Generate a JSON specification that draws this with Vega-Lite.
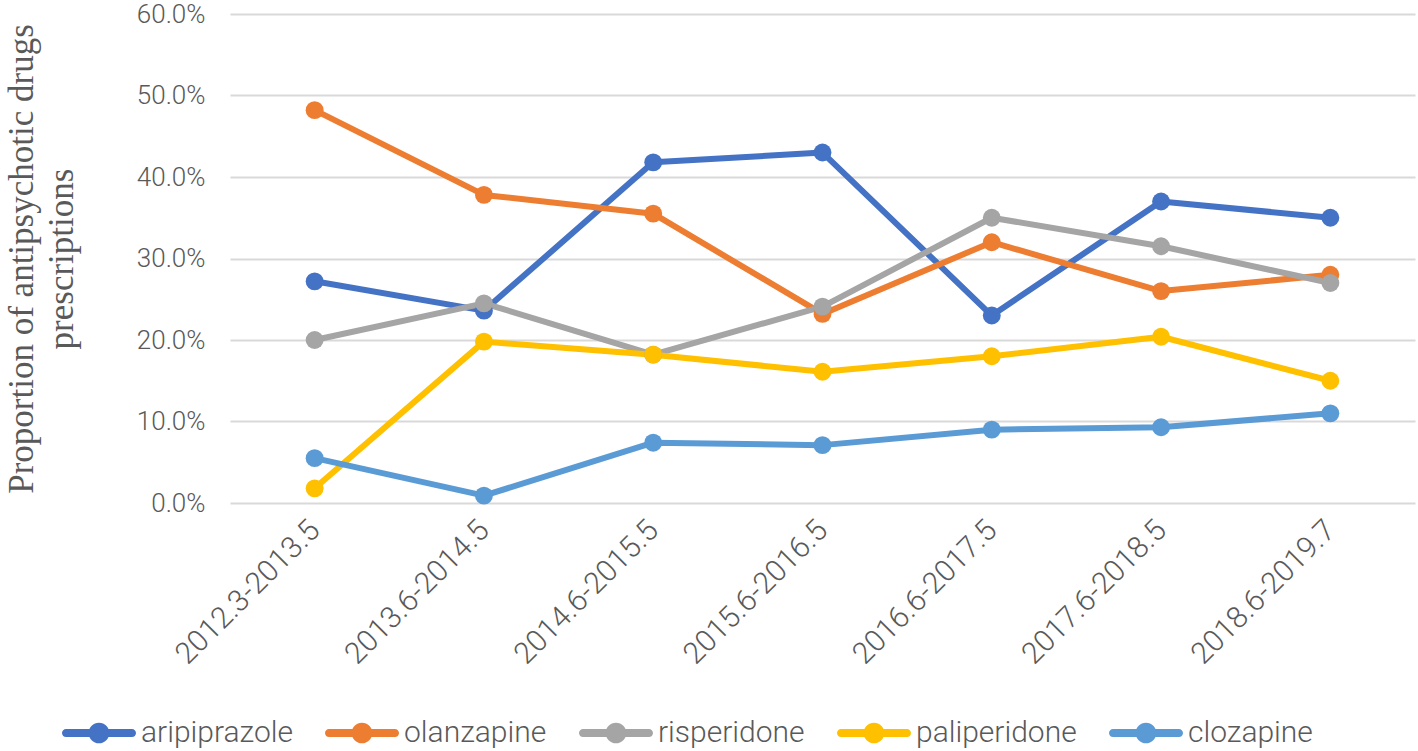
{
  "$schema": "https://vega.github.io/schema/vega-lite/v6.json",
  "width": 1185,
  "height": 489,
  "autosize": "none",
  "padding": {"left": 230, "top": 14, "right": 3, "bottom": 248},
  "background": "white",
  "config": {
    "view": {"stroke": null},
    "axis": {"labelFont": "Roboto", "labelFontWeight": 300, "labelColor": "#595959", "labelFontSize": 26, "labelLimit": 400}
  },
  "data": {
    "values": [
      {"period": "2012.3-2013.5", "drug": "aripiprazole", "p": 0.272},
      {"period": "2013.6-2014.5", "drug": "aripiprazole", "p": 0.236},
      {"period": "2014.6-2015.5", "drug": "aripiprazole", "p": 0.418},
      {"period": "2015.6-2016.5", "drug": "aripiprazole", "p": 0.430},
      {"period": "2016.6-2017.5", "drug": "aripiprazole", "p": 0.230},
      {"period": "2017.6-2018.5", "drug": "aripiprazole", "p": 0.370},
      {"period": "2018.6-2019.7", "drug": "aripiprazole", "p": 0.350},
      {"period": "2012.3-2013.5", "drug": "olanzapine", "p": 0.482},
      {"period": "2013.6-2014.5", "drug": "olanzapine", "p": 0.378},
      {"period": "2014.6-2015.5", "drug": "olanzapine", "p": 0.355},
      {"period": "2015.6-2016.5", "drug": "olanzapine", "p": 0.232},
      {"period": "2016.6-2017.5", "drug": "olanzapine", "p": 0.320},
      {"period": "2017.6-2018.5", "drug": "olanzapine", "p": 0.260},
      {"period": "2018.6-2019.7", "drug": "olanzapine", "p": 0.280},
      {"period": "2012.3-2013.5", "drug": "risperidone", "p": 0.200},
      {"period": "2013.6-2014.5", "drug": "risperidone", "p": 0.245},
      {"period": "2014.6-2015.5", "drug": "risperidone", "p": 0.182},
      {"period": "2015.6-2016.5", "drug": "risperidone", "p": 0.241},
      {"period": "2016.6-2017.5", "drug": "risperidone", "p": 0.350},
      {"period": "2017.6-2018.5", "drug": "risperidone", "p": 0.315},
      {"period": "2018.6-2019.7", "drug": "risperidone", "p": 0.270},
      {"period": "2012.3-2013.5", "drug": "paliperidone", "p": 0.018},
      {"period": "2013.6-2014.5", "drug": "paliperidone", "p": 0.198},
      {"period": "2014.6-2015.5", "drug": "paliperidone", "p": 0.182},
      {"period": "2015.6-2016.5", "drug": "paliperidone", "p": 0.161},
      {"period": "2016.6-2017.5", "drug": "paliperidone", "p": 0.180},
      {"period": "2017.6-2018.5", "drug": "paliperidone", "p": 0.204},
      {"period": "2018.6-2019.7", "drug": "paliperidone", "p": 0.150},
      {"period": "2012.3-2013.5", "drug": "clozapine", "p": 0.055},
      {"period": "2013.6-2014.5", "drug": "clozapine", "p": 0.009},
      {"period": "2014.6-2015.5", "drug": "clozapine", "p": 0.074},
      {"period": "2015.6-2016.5", "drug": "clozapine", "p": 0.071},
      {"period": "2016.6-2017.5", "drug": "clozapine", "p": 0.090},
      {"period": "2017.6-2018.5", "drug": "clozapine", "p": 0.093},
      {"period": "2018.6-2019.7", "drug": "clozapine", "p": 0.110}
    ]
  },
  "encoding": {
    "x": {
      "field": "period", "type": "nominal", "sort": null,
      "scale": {"type": "point", "padding": 0.5},
      "axis": {"title": null, "labelAngle": -45, "labelAlign": "right", "labelBaseline": "middle", "labelPadding": 22, "labelFontSize": 30, "ticks": false, "domain": false, "grid": false}
    },
    "y": {
      "field": "p", "type": "quantitative",
      "scale": {"domain": [0, 0.6], "nice": false, "zero": true},
      "axis": {
        "values": [0, 0.1, 0.2, 0.3, 0.4, 0.5, 0.6], "format": ".1%",
        "ticks": false, "domain": false, "labelPadding": 25,
        "grid": true, "gridColor": "#D9D9D9", "gridWidth": 2,
        "title": ["Proportion of antipsychotic drugs", "prescriptions"],
        "titleFont": "Liberation Serif", "titleFontSize": 35, "titleFontWeight": "normal", "titleColor": "#595959",
        "titleLineHeight": 40, "titlePadding": 57
      }
    },
    "color": {
      "field": "drug", "type": "nominal",
      "scale": {"domain": ["aripiprazole", "olanzapine", "risperidone", "paliperidone", "clozapine"], "range": ["#4472C4", "#ED7D31", "#A5A5A5", "#FFC000", "#5B9BD5"]},
      "legend": {
        "orient": "none", "legendX": -168, "legendY": 682, "direction": "horizontal", "title": null, "padding": 0,
        "symbolType": "M-0.89,-0.11 H0.89 A0.11,0.11 0 0,1 0.89,0.11 H-0.89 A0.11,0.11 0 0,1 -0.89,-0.11 Z M0.28,0 A0.28,0.28 0 1,1 -0.28,0 A0.28,0.28 0 1,1 0.28,0 Z",
        "symbolSize": 5476, "symbolStrokeWidth": 0, "symbolOpacity": 1,
        "labelFont": "Roboto", "labelFontWeight": 300, "labelFontSize": 30, "labelColor": "#595959", "labelOffset": 5, "columnPadding": 32, "labelLimit": 400,
        "encode": {"symbols": {"update": {"fill": {"scale": "color", "field": "value"}, "stroke": {"value": "transparent"}, "opacity": {"value": 1}}}}
      }
    }
  },
  "layer": [
    {"mark": {"type": "line", "strokeWidth": 6, "strokeJoin": "round"}},
    {"mark": {"type": "point", "filled": true, "size": 320, "opacity": 1, "shape": "circle"}}
  ]
}
